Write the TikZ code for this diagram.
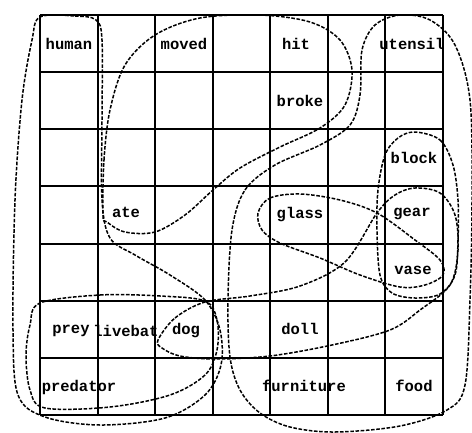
\documentclass[tikz,border=0pt]{standalone}
\usepackage{fontspec}
\setmonofont{Liberation Mono}
\begin{document}
\begin{tikzpicture}[x=1pt,y=-1pt,
  gridline/.style={line width=2pt},
  loop/.style={line width=1.5pt,dash pattern=on 3.6pt off 1.6pt,line join=round},
  word/.style={font=\ttfamily\bfseries\fontsize{15.5}{16}\selectfont,inner sep=0pt}]
\useasboundingbox (0,0) rectangle (472,432);
\clip (0,0) rectangle (472,432);
% grid
\foreach \i in {0,...,7}{
  \draw[gridline] ({40+\i*57.57},15) -- ({40+\i*57.57},415);
  \draw[gridline] (40,{15+\i*57.14}) -- (443,{15+\i*57.14});
}
% words
\node[word] (human) at (69,44) {human};
\node[word] (moved) at (184,44) {moved};
\node[word] (hit) at (296,44) {hit};
\node[word] (utensil) at (412,44) {utensil};
\node[word] (broke) at (300,101) {broke};
\node[word] (block) at (414,158) {block};
\node[word] (ate) at (126,212) {ate};
\node[word] (glass) at (300,215) {glass};
\node[word] (gear) at (412,214) {gear};
\node[word] (vase) at (413,270) {vase};
\node[word] (prey) at (71,331) {prey};
\node[word] (livebat) at (126,331) {livebat};
\node[word] (dog) at (186,331) {dog};
\node[word] (doll) at (300,329) {doll};
\node[word] (predator) at (79,387) {predator};
\node[word] (furniture) at (304,386) {furniture};
\node[word] (food) at (414,386) {food};
% loops
\draw[loop] plot[smooth cycle,tension=0.55] coordinates {(103,215) (104,160) (110,110) (125,65) (155,35) (200,18) (260,15) (310,22) (340,40) (352,70) (345,105) (320,128) (280,147) (240,168) (213,190) (185,215) (155,232) (125,232) (107,222)};
\draw[loop] plot[smooth cycle,tension=0.55] coordinates {(40,17) (75,16) (96,20) (102,40) (102,120) (102,200) (110,238) (135,255) (170,275) (205,300) (220,330) (221,365) (205,395) (165,418) (100,425) (45,417) (18,395) (13,330) (15,200) (22,100) (32,40)};
\draw[loop] plot[smooth cycle,tension=0.55] coordinates {(40,303) (100,295) (160,296) (205,301) (217,320) (217,350) (205,375) (170,395) (110,407) (45,408) (30,390) (26,355) (30,325)};
\draw[loop] plot[smooth cycle,tension=0.55] coordinates {(158,340) (175,318) (205,302) (250,296) (300,286) (345,262) (377,213) (395,195) (415,188) (440,193) (455,215) (458,250) (450,285) (420,310) (390,330) (332,345) (270,356) (215,359) (180,356) (162,348)};
\draw[loop] plot[smooth cycle,tension=0.55] coordinates {(258,213) (270,198) (300,194) (340,200) (377,213) (415,240) (440,260) (443,275) (425,285) (400,287) (360,275) (320,258) (280,243) (262,230)};
\draw[loop] plot[smooth cycle,tension=0.55] coordinates {(415,132) (440,140) (453,165) (458,200) (458,240) (455,275) (440,294) (415,298) (392,293) (380,275) (377,230) (378,190) (385,155) (398,138)};
\draw[loop] plot[smooth cycle,tension=0.55] coordinates {(232,230) (245,190) (275,165) (320,145) (350,125) (360,95) (362,50) (375,25) (400,15) (430,20) (455,45) (470,100) (472,200) (470,300) (465,385) (447,410) (400,426) (335,432) (290,427) (260,413) (240,390) (230,357) (228,300)};
\end{tikzpicture}
\end{document}
